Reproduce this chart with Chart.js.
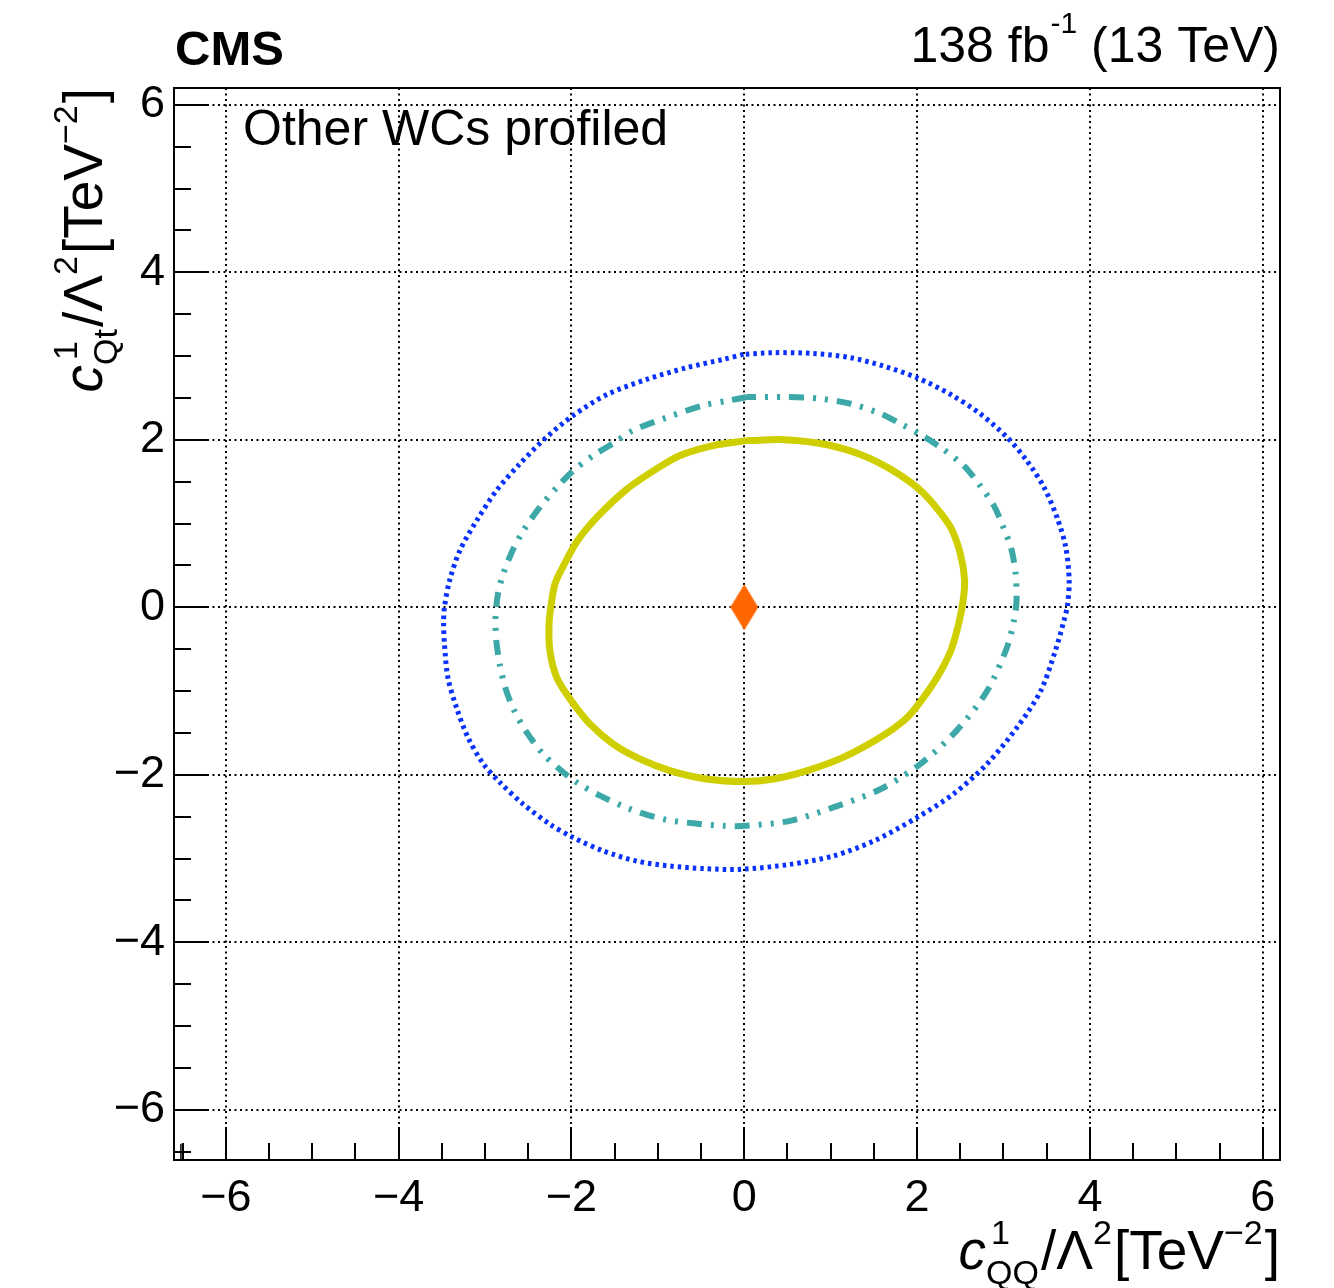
<!DOCTYPE html>
<html><head><meta charset="utf-8">
<script src="https://cdn.jsdelivr.net/npm/chart.js@4/dist/chart.umd.min.js"></script>
<style>html,body{margin:0;padding:0;background:#fff;}#wrap{width:1334px;height:1288px;}</style>
</head><body><div id="wrap"><canvas id="c" width="1334" height="1288"></canvas></div>
<script>
// ---- data ----
const xTicks = [-6, -4, -2, 0, 2, 4, 6];
const yTicks = [-6, -4, -2, 0, 2, 4, 6];

// 68% CL contour (yellow, solid)
const cont68X = [0.03, -0.36, -0.75, -1.02, -1.36, -1.71, -1.94, -2.10, -2.19, -2.24, -2.26, -2.25, -2.17, -2.00, -1.79, -1.52, -1.21, -0.86, -0.44, 0.00, 0.34, 0.73, 1.15, 1.58, 1.85, 2.00, 2.23, 2.39, 2.48, 2.53, 2.55, 2.50, 2.39, 2.19, 2.00, 1.69, 1.38, 0.96, 0.46, 0.03];
const cont68Y = [1.99, 1.93, 1.81, 1.65, 1.41, 1.07, 0.78, 0.48, 0.28, 0.00, -0.22, -0.52, -0.84, -1.12, -1.39, -1.63, -1.81, -1.95, -2.05, -2.08, -2.05, -1.95, -1.79, -1.55, -1.35, -1.18, -0.84, -0.52, -0.20, 0.06, 0.32, 0.64, 0.95, 1.23, 1.43, 1.65, 1.81, 1.94, 2.00, 1.99];

// 95% CL contour (teal, dash-dot)
const cont95X = [0.03, -0.17, -0.47, -0.94, -1.29, -1.50, -1.75, -1.98, -2.17, -2.37, -2.56, -2.68, -2.79, -2.85, -2.87, -2.88, -2.87, -2.83, -2.76, -2.66, -2.52, -2.33, -2.12, -1.94, -1.67, -1.32, -0.94, -0.59, -0.24, 0.02, 0.53, 1.03, 1.58, 2.04, 2.46, 2.81, 3.04, 3.12, 3.15, 3.14, 3.09, 3.00, 2.89, 2.73, 2.54, 2.27, 2.06, 1.81, 1.58, 1.23, 0.88, 0.49, 0.03];
const cont95Y = [2.51, 2.47, 2.41, 2.25, 2.11, 1.97, 1.81, 1.63, 1.43, 1.19, 0.91, 0.68, 0.40, 0.16, 0.00, -0.16, -0.40, -0.68, -0.98, -1.24, -1.49, -1.75, -1.95, -2.09, -2.25, -2.41, -2.53, -2.58, -2.61, -2.61, -2.55, -2.39, -2.17, -1.87, -1.47, -1.00, -0.48, -0.16, 0.06, 0.40, 0.70, 0.95, 1.21, 1.45, 1.69, 1.91, 2.05, 2.19, 2.31, 2.43, 2.49, 2.51, 2.51];

// 99.7% CL contour (blue, dotted)
const cont997X = [-0.01, -0.24, -0.67, -1.13, -1.59, -1.98, -2.29, -2.60, -2.87, -3.10, -3.29, -3.41, -3.47, -3.48, -3.47, -3.43, -3.33, -3.20, -3.02, -2.83, -2.56, -2.25, -1.98, -1.63, -1.25, -0.86, -0.47, -0.05, 0.53, 1.03, 1.50, 2.00, 2.42, 2.81, 3.16, 3.43, 3.60, 3.70, 3.74, 3.76, 3.72, 3.62, 3.47, 3.27, 3.04, 2.73, 2.39, 2.00, 1.61, 1.23, 0.80, 0.34, -0.01];
const cont997Y = [3.02, 2.96, 2.86, 2.72, 2.54, 2.29, 2.03, 1.71, 1.39, 1.03, 0.68, 0.32, 0.00, -0.20, -0.44, -0.84, -1.20, -1.55, -1.87, -2.09, -2.35, -2.59, -2.75, -2.91, -3.03, -3.09, -3.12, -3.13, -3.07, -2.97, -2.79, -2.51, -2.23, -1.87, -1.43, -1.00, -0.52, -0.16, 0.02, 0.32, 0.72, 1.07, 1.43, 1.75, 2.03, 2.31, 2.54, 2.74, 2.88, 2.98, 3.03, 3.04, 3.02];

// best fit point and corner marker
const bestFitX = [0.0];
const bestFitY = [0.0];
const cornerX = [-6.52];
const cornerY = [-6.50];

// ---- helpers ----
const FONT = '"Liberation Sans", Arial, Helvetica, sans-serif';
const pts = (xs, ys) => xs.map((x, i) => ({x: x, y: ys[i]}));
const fmt = v => (v < 0 ? '\u2212' + (-v) : String(v));

// elongated diamond marker
const diamond = document.createElement('canvas');
diamond.width = 28; diamond.height = 46;
(function(){
  const g = diamond.getContext('2d');
  g.fillStyle = '#ff6600';
  g.beginPath();
  g.moveTo(14, 0); g.lineTo(28, 23); g.lineTo(14, 46); g.lineTo(0, 23); g.closePath();
  g.fill();
})();

function richWidth(ctx, segs, F, s) {
  let w = 0;
  for (const sg of segs) {
    if (sg.t !== undefined) { ctx.font = (sg.it ? 'italic ' : '') + F + 'px ' + FONT; w += ctx.measureText(sg.t).width; }
    else {
      ctx.font = s + 'px ' + FONT;
      const a = sg.sup ? ctx.measureText(sg.sup).width + (sg.supdx || 0) : 0;
      const b = sg.sub ? ctx.measureText(sg.sub).width : 0;
      w += Math.max(a, b) + 2;
    }
  }
  return w;
}
function drawRich(ctx, segs, x0, F, s, up, down) {
  let x = x0;
  ctx.textAlign = 'left'; ctx.textBaseline = 'alphabetic';
  for (const sg of segs) {
    if (sg.t !== undefined) {
      ctx.font = (sg.it ? 'italic ' : '') + F + 'px ' + FONT;
      ctx.fillText(sg.t, x, 0);
      x += ctx.measureText(sg.t).width;
    } else {
      ctx.font = s + 'px ' + FONT;
      let a = 0, b = 0;
      if (sg.sup) { ctx.fillText(sg.sup, x + (sg.supdx || 0), -up); a = ctx.measureText(sg.sup).width + (sg.supdx || 0); }
      if (sg.sub) { ctx.fillText(sg.sub, x, down); b = ctx.measureText(sg.sub).width; }
      x += Math.max(a, b) + 2;
    }
  }
}

const xTitle = [{t: 'c', it: true}, {sup: '1', sub: 'QQ', supdx: 5}, {t: '/\u039B'}, {sup: '2'}, {t: '[TeV'}, {sup: '\u22122'}, {t: ']'}];
const yTitle = [{t: 'c', it: true}, {sup: '1', sub: 'Qt', supdx: 5}, {t: '/\u039B'}, {sup: '2'}, {t: '[TeV'}, {sup: '\u22122'}, {t: ']'}];

const decor = {
  id: 'decor',
  afterDraw(chart) {
    const ctx = chart.ctx;
    const a = chart.chartArea;
    const xs = chart.scales.x, ys = chart.scales.y;
    ctx.save();
    ctx.strokeStyle = '#000';
    ctx.lineWidth = 2;
    // inward ticks
    const step = 0.5;
    ctx.beginPath();
    for (let v = Math.ceil(xs.min / step) * step; v <= xs.max + 1e-9; v += step) {
      const p = Math.round(xs.getPixelForValue(v));
      const major = Math.abs(v / 2 - Math.round(v / 2)) < 1e-6;
      const L = major ? 33 : 17;
      ctx.moveTo(p, a.bottom); ctx.lineTo(p, a.bottom - L);
    }
    for (let v = Math.ceil(ys.min / step) * step; v <= ys.max + 1e-9; v += step) {
      const p = Math.round(ys.getPixelForValue(v));
      const major = Math.abs(v / 2 - Math.round(v / 2)) < 1e-6;
      const L = major ? 33 : 17;
      ctx.moveTo(a.left, p); ctx.lineTo(a.left + L, p);
    }
    ctx.stroke();
    // frame
    ctx.strokeRect(a.left, a.top, a.right - a.left, a.bottom - a.top);

    ctx.fillStyle = '#000';
    // CMS
    ctx.textAlign = 'left'; ctx.textBaseline = 'alphabetic';
    ctx.font = 'bold 49px ' + FONT;
    ctx.fillText('CMS', 175, 65);
    // lumi
    ctx.font = '50px ' + FONT;
    const tail = ' (13 TeV)';
    const wTail = ctx.measureText(tail).width;
    const head = '138 fb';
    const wHead = ctx.measureText(head).width;
    ctx.font = '30px ' + FONT;
    const sup = '-1';
    const wSup = ctx.measureText(sup).width;
    let xr = 1280 - wTail - wSup - wHead - 1;
    ctx.font = '50px ' + FONT;
    ctx.fillText(head, xr, 62);
    ctx.font = '30px ' + FONT;
    ctx.fillText(sup, xr + wHead + 1, 33);
    ctx.font = '50px ' + FONT;
    ctx.fillText(tail, xr + wHead + wSup + 1, 62);
    // label inside
    ctx.font = '50px ' + FONT;
    ctx.fillText('Other WCs profiled', 243, 145);

    // axis titles
    const F = 55, s = 34;
    const wx = richWidth(ctx, xTitle, F, s);
    ctx.save();
    ctx.translate(1280 - wx, 1269);
    drawRich(ctx, xTitle, 0, F, s, 25, 15);
    ctx.restore();

    const wy = richWidth(ctx, yTitle, F, s);
    ctx.save();
    ctx.translate(102, 88);
    ctx.rotate(-Math.PI / 2);
    drawRich(ctx, yTitle, -wy, F, s, 25, 15);
    ctx.restore();
    ctx.restore();
  }
};

const tickFont = {family: FONT, size: 45};
new Chart(document.getElementById('c'), {
  type: 'scatter',
  data: {
    datasets: [
      {label: 'best fit', data: pts(bestFitX, bestFitY), pointStyle: diamond, pointRadius: 23, showLine: false, order: 0},
      {label: '68%', data: pts(cont68X, cont68Y), showLine: true, borderColor: '#cfcf00', borderWidth: 7, pointRadius: 0, tension: 0.3, fill: false, order: 1},
      {label: '95%', data: pts(cont95X, cont95Y), showLine: true, borderColor: '#3da8a8', borderWidth: 6, borderDash: [15, 9, 3, 9, 3, 9], borderCapStyle: 'butt', pointRadius: 0, tension: 0.3, fill: false, order: 2},
      {label: '99.7%', data: pts(cont997X, cont997Y), showLine: true, borderColor: '#0a32ff', borderWidth: 5, borderDash: [3.5, 4], borderCapStyle: 'butt', pointRadius: 0, tension: 0.3, fill: false, order: 3},
      {label: 'corner', data: pts(cornerX, cornerY), pointStyle: 'cross', pointRadius: 8, borderColor: '#000', borderWidth: 1.5, showLine: false, order: 4}
    ]
  },
  options: {
    responsive: false, animation: false, devicePixelRatio: 1,
    layout: {padding: {left: 0, top: 88, right: 54, bottom: 0}},
    plugins: {legend: {display: false}, tooltip: {enabled: false}, title: {display: false}},
    scales: {
      x: {
        type: 'linear', position: 'bottom', min: -6.6, max: 6.2,
        afterBuildTicks: s => { s.ticks = xTicks.map(v => ({value: v})); },
        afterFit: s => { s.height = 128; },
        grid: {color: '#000', lineWidth: 2, drawTicks: false},
        border: {display: false, dash: [2, 3.5]},
        ticks: {font: tickFont, color: '#000', padding: 12, maxRotation: 0, autoSkip: false, callback: v => fmt(v)}
      },
      y: {
        type: 'linear', position: 'left', min: -6.6, max: 6.2,
        afterBuildTicks: s => { s.ticks = yTicks.map(v => ({value: v})); },
        afterFit: s => { s.width = 174; },
        grid: {color: '#000', lineWidth: 2, drawTicks: false},
        border: {display: false, dash: [2, 3.5]},
        ticks: {font: tickFont, color: '#000', padding: 9, autoSkip: false, callback: v => fmt(v)}
      }
    }
  },
  plugins: [decor]
});
</script>
</body></html>
